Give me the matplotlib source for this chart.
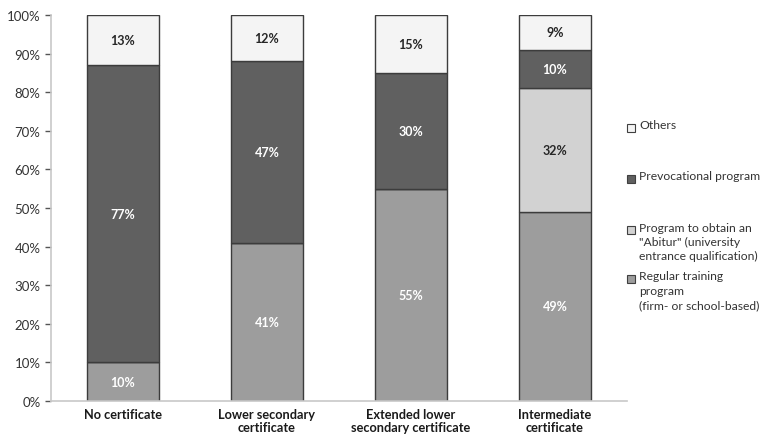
import numpy as np
import matplotlib
matplotlib.use("Agg")
import matplotlib.pyplot as plt
from matplotlib.patches import Rectangle

plt.rcParams['font.family'] = ['Lato', 'DejaVu Sans']

categories = ['No certificate', 'Lower secondary\ncertificate',
              'Extended lower\nsecondary certificate', 'Intermediate\ncertificate']
regular = [10, 41, 55, 49]
abitur = [0, 0, 0, 32]
prevoc = [77, 47, 30, 10]
others = [13, 12, 15, 9]

series = [
    ('Regular training\nprogram\n(firm- or school-based)', regular, '#9d9d9d', 'white'),
    ('Program to obtain an\n"Abitur" (university\nentrance qualification)', abitur, '#d2d2d2', '#262626'),
    ('Prevocational program', prevoc, '#606060', 'white'),
    ('Others', others, '#f4f4f4', '#262626'),
]

fig = plt.figure(figsize=(7.69, 4.39), dpi=100)
ax = fig.add_axes([0.0663, 0.0843, 0.7490, 0.8793])

x = np.arange(len(categories))
bottom = np.zeros(len(categories))
for name, vals, color, tcolor in series:
    vals = np.array(vals, dtype=float)
    ax.bar(x, vals, 0.5, bottom=bottom, color=color, edgecolor='#3c3c3c',
           linewidth=1.0, zorder=2)
    for xi, b, v in zip(x, bottom, vals):
        if v > 0:
            ax.text(xi, b + v / 2, f'{v:.0f}%', ha='center', va='center',
                    color=tcolor, fontsize=9, fontweight='bold', zorder=3)
    bottom += vals

ax.set_xlim(-0.5, 3.5)
ax.set_ylim(0, 100)
ax.set_yticks(np.arange(0, 101, 10))
ax.set_yticklabels([f'{v}%' for v in range(0, 101, 10)])
ax.set_xticks(x)
ax.set_xticklabels(categories, fontweight='bold', fontsize=9.2, linespacing=1.15)
ax.tick_params(axis='y', labelsize=9.5, colors='#555555', length=4, width=1,
               labelcolor='#333333')
ax.tick_params(axis='x', length=0, pad=5, labelcolor='#1a1a1a')
for side in ['top', 'right']:
    ax.spines[side].set_visible(False)
for side in ['left', 'bottom']:
    ax.spines[side].set_color('#c8c8c8')
    ax.spines[side].set_linewidth(1.2)

# legend drawn entry by entry, top to bottom
legend_y = [128, 179, 230, 279]
for (name, vals, color, tcolor), py in zip(series[::-1], legend_y):
    fy = 1 - py / 439
    fig.patches.append(Rectangle((627 / 769, fy - 4.5 / 439), 8 / 769, 8 / 439,
                                 transform=fig.transFigure, facecolor=color,
                                 edgecolor='#404040', linewidth=0.8))
    fig.text(639 / 769, fy + 7.5 / 439, name, ha='left', va='top', fontsize=8.7,
             color='#333333', linespacing=1.35)

fig.savefig('out.png', dpi=100)
